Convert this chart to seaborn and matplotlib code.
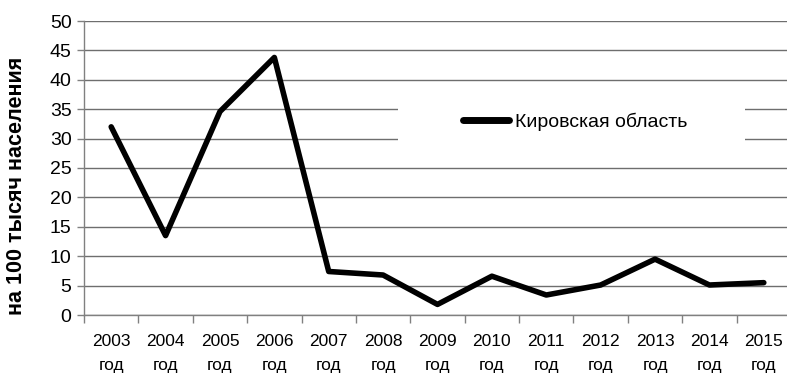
import matplotlib
matplotlib.use("Agg")
import matplotlib.pyplot as plt
from matplotlib.patches import Rectangle
import seaborn as sns
import pandas as pd
import numpy as np

years = ["2003", "2004", "2005", "2006", "2007", "2008", "2009",
         "2010", "2011", "2012", "2013", "2014", "2015"]
values = [32.0, 13.5, 34.6, 43.8, 7.4, 6.8, 1.8, 6.6, 3.4, 5.1, 9.5, 5.1, 5.5]
series_name = "Кировская область"
ylabel = "на 100 тысяч населения"

sns.set_theme(style="white")
plt.rcParams['font.family'] = ['Liberation Sans', 'DejaVu Sans']
plt.rcParams['text.color'] = 'black'
plt.rcParams['xtick.color'] = 'black'
plt.rcParams['ytick.color'] = 'black'
plt.rcParams['axes.labelcolor'] = 'black'

df = pd.DataFrame({"idx": np.arange(len(years)), "value": values, "series": series_name})

fig = plt.figure(figsize=(7.87, 3.74), dpi=100)
ax = fig.add_axes([84/787, 1-315/374, (791-84)/787, (315-21)/374])

sns.lineplot(data=df, x="idx", y="value", hue="series", palette=["black"],
             linewidth=4.0, ax=ax, legend=True, zorder=3)

ax.set_xlim(-0.5, len(years) - 0.5)
ax.set_ylim(0, 50)
ax.set_yticks(range(0, 51, 5))
ax.tick_params(axis='y', labelsize=14, length=5, width=1, color='#808080', pad=4, left=True,
               labelcolor='black')
ax.set_xticks(np.arange(len(years)))
ax.set_xticklabels([f"{y}\nгод" for y in years], linespacing=1.7)
ax.tick_params(axis='x', which='major', labelsize=12.5, length=0, pad=14, labelcolor='black')
ax.set_xticks(np.arange(len(years)) - 0.5, minor=True)
ax.tick_params(axis='x', which='minor', length=6, width=1, color='#808080', bottom=True)
ax.yaxis.grid(True, color='#6e6e6e', linewidth=1)
ax.set_axisbelow(True)
for s in ['top', 'right']:
    ax.spines[s].set_visible(False)
for s in ['left', 'bottom']:
    ax.spines[s].set_color('#808080')
    ax.spines[s].set_linewidth(1)
ax.set_xlabel("")
ax.set_ylabel(ylabel, fontsize=15.5, fontweight='bold', color='black')
ax.yaxis.set_label_coords(-0.081, 0.439)

# white legend background area (masks gridlines)
bg = Rectangle((398/787, 1-147/374), (745-398)/787, (147-100)/374, transform=fig.transFigure,
               facecolor='white', edgecolor='none', zorder=2)
ax.add_patch(bg)

leg = ax.legend(loc='center left', bbox_to_anchor=(455/787, 1-122/374), bbox_transform=fig.transFigure,
                frameon=False, fontsize=14, handlelength=2.4, handletextpad=0.3,
                borderaxespad=0, title=None)
for line in leg.get_lines():
    line.set_linewidth(5)
leg.set_zorder(5)

fig.savefig("out.png", dpi=100)
